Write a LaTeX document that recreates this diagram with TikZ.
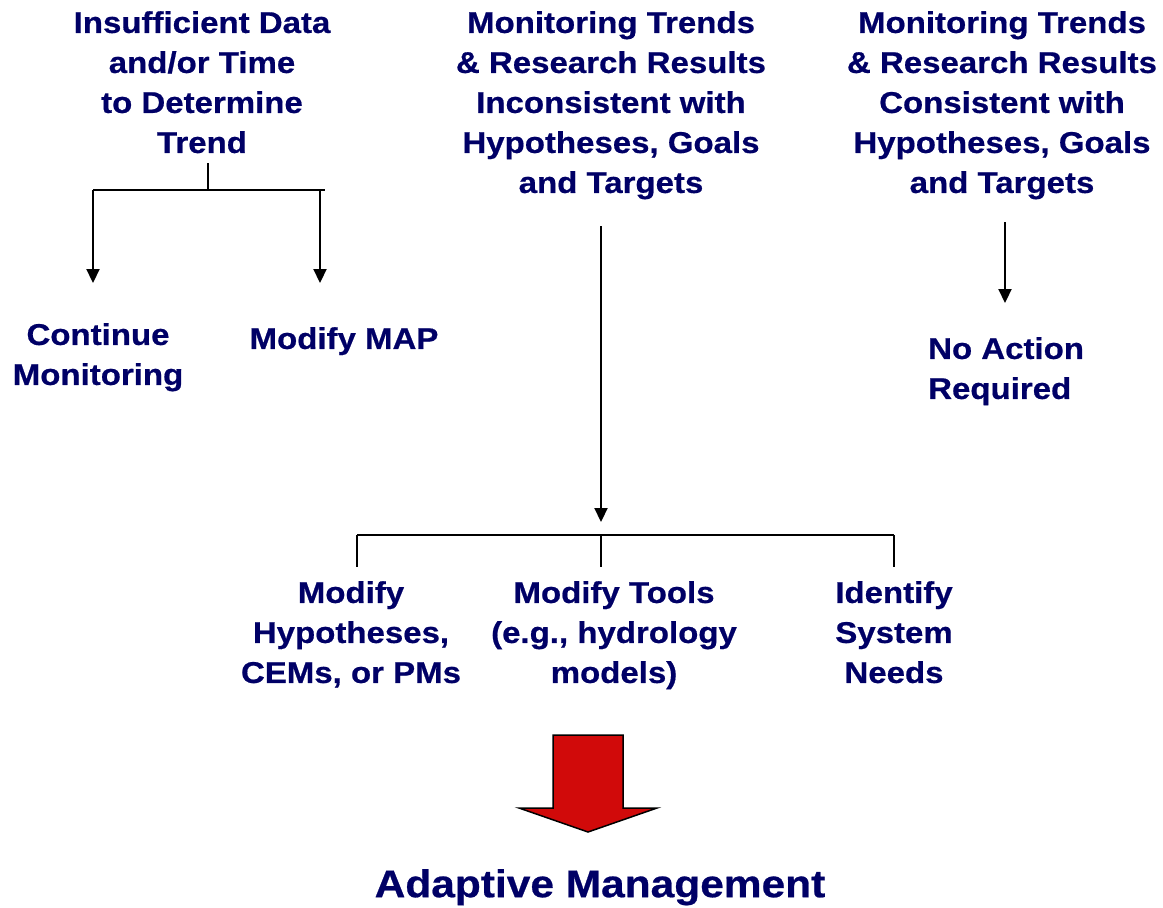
\documentclass[tikz,border=0pt]{standalone}
\usepackage{fontspec}
\setmainfont{Liberation Sans}
\newfontfamily\bodyfont[FakeStretch=1.1,BoldFeatures={FakeBold=0.6}]{Liberation Sans}
\usetikzlibrary{arrows.meta}
\definecolor{navy}{HTML}{000066}
\definecolor{arrowred}{HTML}{D10A0A}
\begin{document}
\begin{tikzpicture}[x=1pt,y=-1pt,
  lbl/.style={font=\bodyfont\bfseries\fontsize{30}{40}\selectfont, text=navy, align=center, inner sep=0pt, anchor=north},
  lbll/.style={lbl, align=left, anchor=north west},
  big/.style={font=\bodyfont\bfseries\fontsize{38.6}{46}\selectfont, text=navy, inner sep=0pt, anchor=north},
  conn/.style={line width=2.2pt, draw=black},
  arr/.style={conn, -{Triangle[length=14pt,width=13pt]}},
  bigarrow/.style={fill=arrowred, draw=black, line width=1.5pt, line join=miter}]
\useasboundingbox (0,0) rectangle (1163,908);
% text blocks
\node[lbl] (insuf) at (202,11) {Insufficient Data\\and/or Time\\to Determine\\Trend};
\node[lbl] (incons) at (611,11) {Monitoring Trends\\\& Research Results\\Inconsistent with\\Hypotheses, Goals\\and Targets};
\node[lbl] (cons) at (1002,11) {Monitoring Trends\\\& Research Results\\Consistent with\\Hypotheses, Goals\\and Targets};
\node[lbl] (cont) at (98,323) {Continue\\Monitoring};
\node[lbl] (map) at (344,327) {Modify MAP};
\node[lbll] (noact) at (928,337) {No Action\\Required};
\node[lbl] (hyp) at (351,581) {Modify\\Hypotheses,\\CEMs, or PMs};
\node[lbl] (tools) at (614,581) {Modify Tools\\(e.g., hydrology\\models)};
\node[lbl] (needs) at (894,581) {Identify\\System\\Needs};
\node[big] (am) at (600,869) {Adaptive Management};
% junction coordinates
\coordinate (j1) at (208,190);
\coordinate (j1l) at (93,190);
\coordinate (j1r) at (325,190);
\coordinate (j1rr) at (320,190);
\coordinate (e1l) at (93,283);
\coordinate (e1r) at (320,283);
\coordinate (s2) at (601,226);
\coordinate (e2) at (601,522);
\coordinate (j2) at (601,535);
\coordinate (j2l) at (357,535);
\coordinate (j2r) at (894,535);
\coordinate (b2l) at (357,567);
\coordinate (b2m) at (601,567);
\coordinate (b2r) at (894,567);
\coordinate (s3) at (1005,222);
\coordinate (e3) at (1005,303);
% left group
\draw[conn, shorten <=10pt] (insuf.south -| j1) -- (j1);
\draw[conn] (j1l) -- (j1r);
\draw[arr] (j1l) -- (e1l);
\draw[arr] (j1rr) -- (e1r);
% middle group
\draw[arr] (s2) -- (e2);
\draw[conn] (j2l) -- (j2r);
\draw[conn] (j2l) -- (b2l);
\draw[conn] (j2) -- (b2m);
\draw[conn] (j2r) -- (b2r);
% right group
\draw[arr] (s3) -- (e3);
% big red arrow
\draw[bigarrow] (553,735) -- (623,735) -- (623,808) -- (657,808) -- (588,832) -- (519,808) -- (553,808) -- cycle;
\end{tikzpicture}
\end{document}
